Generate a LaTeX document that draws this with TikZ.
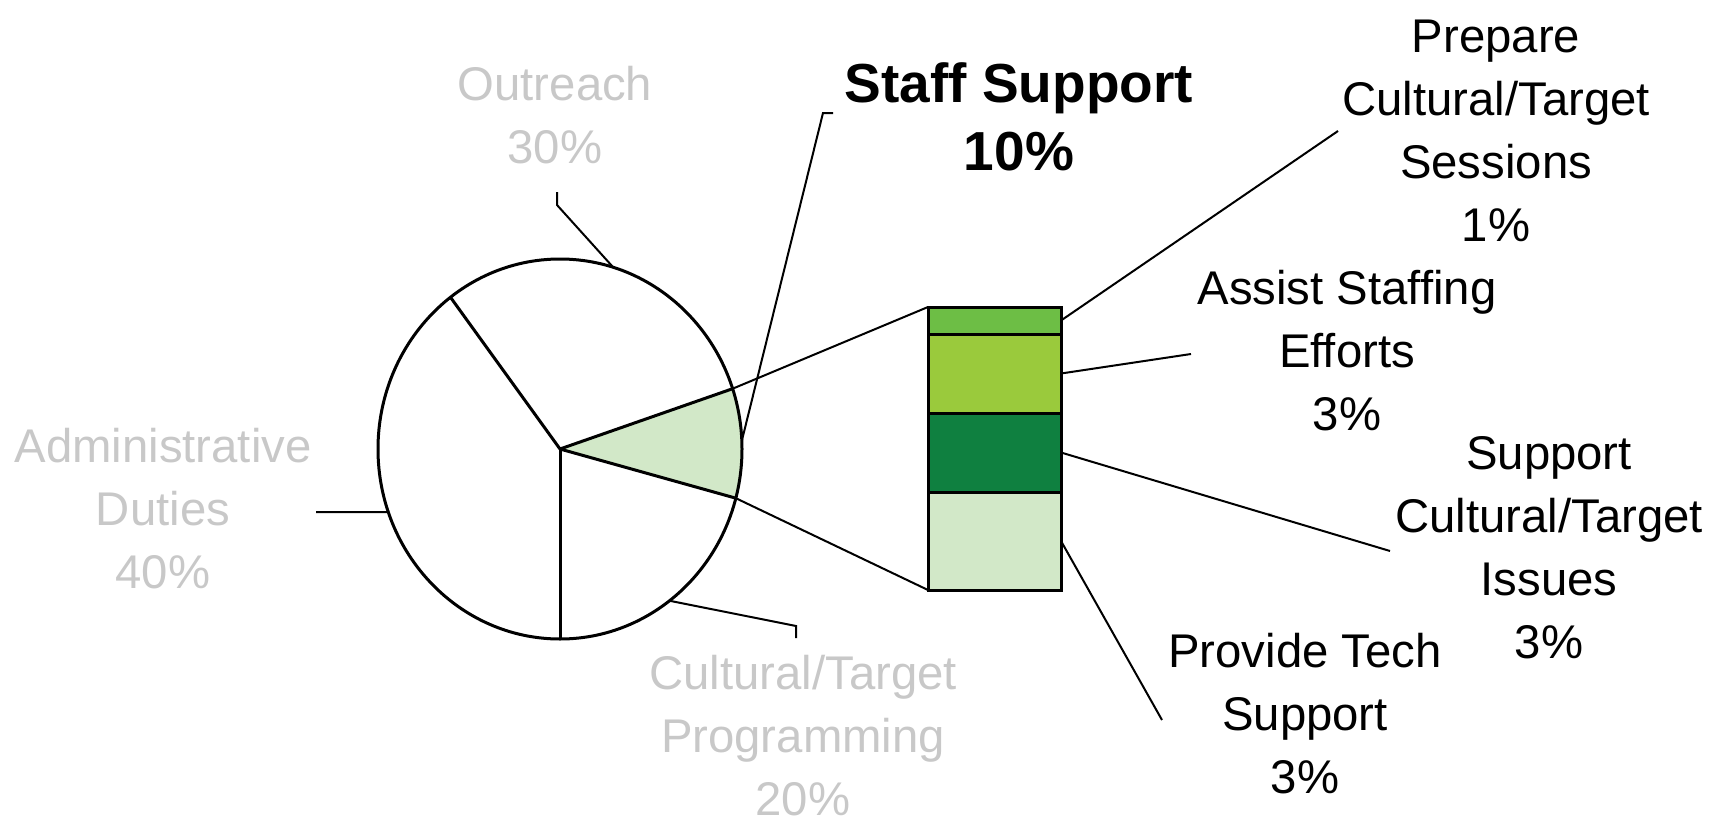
\documentclass[tikz,border=0pt]{standalone}
\usepackage{fontspec}
\setmainfont{Liberation Sans}
\definecolor{lgray}{RGB}{200,200,200}
\definecolor{gA}{RGB}{109,190,69}
\definecolor{gB}{RGB}{154,202,60}
\definecolor{gC}{RGB}{15,128,64}
\definecolor{gD}{RGB}{210,232,200}
\tikzset{
  piepart/.style={line width=3pt, line join=round},
  leader/.style={line width=2pt, line join=miter},
  seg/.style={draw, line width=3pt, inner sep=0pt, minimum width=133pt, anchor=north west, outer sep=0pt},
  lbl/.style={align=center, font=\fontsize{47.3}{63}\selectfont, inner sep=0pt},
  glbl/.style={lbl, text=lgray},
  blbl/.style={align=center, font=\fontsize{55}{68}\selectfont\bfseries, inner sep=0pt}
}
\begin{document}
\begin{tikzpicture}[x=1pt,y=-1pt]
\useasboundingbox (0,0) rectangle (1727,822);
% pie
\coordinate (C) at (560,449);
\coordinate (P1) at ({560+182*cos(127)},{449-190*sin(127)});
\coordinate (P2) at ({560+182*cos(18.5)},{449-190*sin(18.5)});
\coordinate (P3) at ({560+182*cos(-15)},{449-190*sin(-15)});
\coordinate (P4) at ({560+182*cos(-90)},{449-190*sin(-90)});
\fill[gD] (C) -- plot[domain=18.5:-15, samples=30] ({560+182*cos(\x)},{449-190*sin(\x)}) -- cycle;
\draw[piepart] (C) ellipse [x radius=182pt, y radius=190pt];
\draw[piepart] (P1) -- (C) -- (P2);
\draw[piepart] (C) -- (P3);
\draw[piepart] (C) -- (P4);
% bar
\node[seg, fill=gA, minimum height=27pt] (b1) at (928,307) {};
\node[seg, fill=gB, minimum height=79pt] (b2) at (928,334) {};
\node[seg, fill=gC, minimum height=79pt] (b3) at (928,413) {};
\node[seg, fill=gD, minimum height=98pt] (b4) at (928,492) {};
% connecting lines
\draw[leader] (P2) -- (b1.north west);
\draw[leader] (P3) -- (b4.south west);
% labels
\node[glbl] (tout) at (555,115.5) {Outreach\\30\%};
\node[blbl] (tstaff) at (1019,117) {Staff Support\\10\%};
\node[glbl] (tadm) at (163,509) {Administrative\\Duties\\40\%};
\node[glbl] (tcul) at (803,736) {Cultural/Target\\Programming\\20\%};
\node[lbl] (tprep) at (1496,130.5) {Prepare\\Cultural/Target\\Sessions\\1\%};
\node[lbl] (tassist) at (1347,351) {Assist Staffing\\Efforts\\3\%};
\node[lbl] (tsupp) at (1549,548) {Support\\Cultural/Target\\Issues\\3\%};
\node[lbl] (tprov) at (1305,714) {Provide Tech\\Support\\3\%};
% leader lines
\coordinate (Lout) at (557,192);
\coordinate (Pout) at ({560+182*cos(73)},{449-190*sin(73)});
\draw[leader] (Lout) -- ++(0,13) -- (Pout);
\coordinate (Lstaff) at (833,113);
\coordinate (Pstaff) at ({560+182*cos(2.5)},{449-190*sin(2.5)});
\draw[leader] (Lstaff) -- ++(-10,0) -- (Pstaff);
\coordinate (Ladm) at (316,512);
\coordinate (Padm) at ({560+182*cos(199.4)},{449-190*sin(199.4)});
\draw[leader] (Ladm) -- (Padm);
\coordinate (Lcul) at (796,638);
\coordinate (Pcul) at ({560+182*cos(-53)},{449-190*sin(-53)});
\draw[leader] (Pcul) -- (796,626) -- (Lcul);
\coordinate (Lprep) at (1338,131);
\draw[leader] (b1.east) -- (Lprep);
\coordinate (Lassist) at (1191,354);
\draw[leader] (b2.east) -- (Lassist);
\coordinate (Lsupp) at (1390,551);
\draw[leader] (b3.east) -- (Lsupp);
\coordinate (Lprov) at (1162,720);
\draw[leader] (b4.east) -- (Lprov);
\end{tikzpicture}
\end{document}
